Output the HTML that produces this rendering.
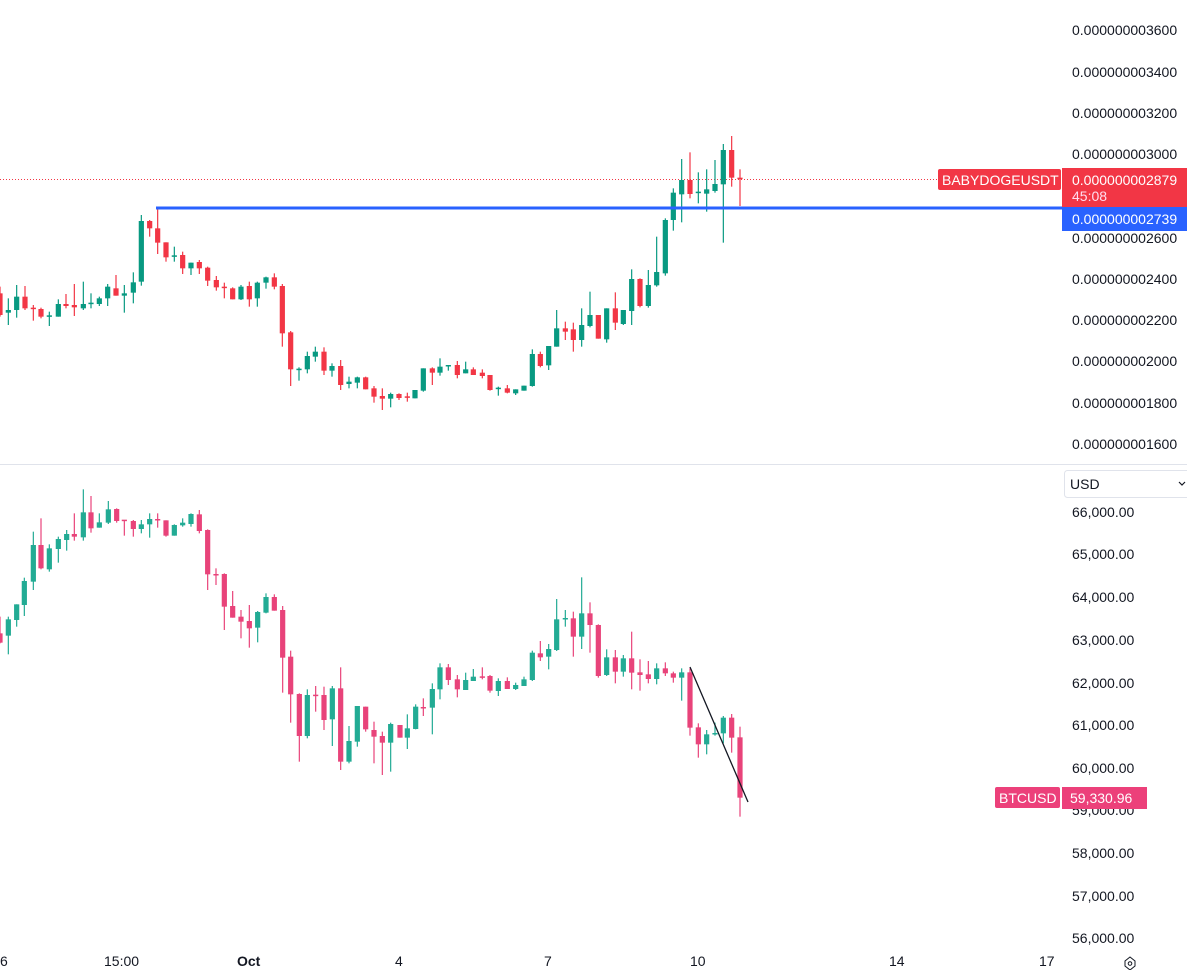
<!DOCTYPE html>
<html><head><meta charset="utf-8"><style>
html,body{margin:0;padding:0;background:#fff;width:1187px;height:970px;overflow:hidden;font-family:"Liberation Sans",sans-serif;}
svg{position:absolute;left:0;top:0}
</style></head><body>
<svg id="s" width="1187" height="970" xmlns="http://www.w3.org/2000/svg">
<line x1="0" y1="464.5" x2="1187" y2="464.5" stroke="#e0e3eb" stroke-width="1"/>
<line x1="0" y1="179.5" x2="1062" y2="179.5" stroke="#f23645" stroke-width="1" stroke-dasharray="1,2"/>
<g id="c"></g>
<line x1="156" y1="208" x2="1062" y2="208" stroke="#2962ff" stroke-width="3"/>
<line x1="690" y1="667" x2="748" y2="802" stroke="#131722" stroke-width="1.3"/>
<g font-size="14" fill="#131722" font-family="Liberation Sans, sans-serif">
<text x="1072" y="35">0.000000003600</text>
<text x="1072" y="77">0.000000003400</text>
<text x="1072" y="118">0.000000003200</text>
<text x="1072" y="159">0.000000003000</text>
<text x="1072" y="243">0.000000002600</text>
<text x="1072" y="284">0.000000002400</text>
<text x="1072" y="325">0.000000002200</text>
<text x="1072" y="366">0.000000002000</text>
<text x="1072" y="408">0.000000001800</text>
<text x="1072" y="449">0.000000001600</text>
<text x="1072" y="517">66,000.00</text>
<text x="1072" y="559">65,000.00</text>
<text x="1072" y="602">64,000.00</text>
<text x="1072" y="645">63,000.00</text>
<text x="1072" y="688">62,000.00</text>
<text x="1072" y="730">61,000.00</text>
<text x="1072" y="773">60,000.00</text>
<text x="1072" y="815">59,000.00</text>
<text x="1072" y="858">58,000.00</text>
<text x="1072" y="901">57,000.00</text>
<text x="1072" y="943">56,000.00</text>
<text x="0" y="966">6</text>
<text x="104" y="966">15:00</text>
<text x="237" y="966" font-weight="bold">Oct</text>
<text x="395" y="966">4</text>
<text x="544" y="966">7</text>
<text x="690" y="966">10</text>
<text x="889" y="966">14</text>
<text x="1039" y="966">17</text>
</g>
<rect x="1064.5" y="470.5" width="130" height="27" rx="3" fill="#fff" stroke="#e0e3eb"/>
<text x="1070" y="489" font-size="14" fill="#131722">USD</text>
<path d="M1179 482 l3 3 l3 -3" fill="none" stroke="#131722" stroke-width="1.2"/>
<polygon points="1130,957 1125,961 1125,966 1130,970 1135,966 1135,961" fill="none" stroke="#131722" stroke-width="1"/>
<circle cx="1130" cy="963.5" r="1.8" fill="none" stroke="#131722"/>
<rect x="938" y="169" width="123" height="21" rx="2" fill="#f23645"/>
<text x="942" y="185" font-size="14" fill="#fff">BABYDOGEUSDT</text>
<rect x="1062" y="168" width="125" height="39" fill="#f23645"/>
<text x="1072" y="185" font-size="14" fill="#fff">0.000000002879</text>
<text x="1072" y="201" font-size="14" fill="#fde">45:08</text>
<rect x="1062" y="207" width="125" height="24" fill="#2962ff"/>
<text x="1072" y="224" font-size="14" fill="#fff">0.000000002739</text>
<rect x="995" y="787" width="65" height="21" rx="2" fill="#ec407a"/>
<text x="999" y="803" font-size="14" fill="#fff">BTCUSD</text>
<rect x="1062" y="787" width="85" height="22" fill="#ec407a"/>
<text x="1070" y="803" font-size="14" fill="#fff">59,330.96</text>
</svg>
<script>
var G=document.getElementById('c'),h='';
function add(ox,oy,arr,gc,rc){arr.forEach(function(a){var x=ox+a[0]/3,col=a[1]?gc:rc;
var bt=oy+a[2]/3,bb=oy+a[3]/3,wt=oy+a[4]/3,wb=oy+a[5]/3;if(bb-bt<1.5)bb=bt+1.5;
h+='<line x1="'+x+'" x2="'+x+'" y1="'+wt+'" y2="'+wb+'" stroke="'+col+'" stroke-width="1.2"/>';
h+='<rect x="'+(x-2.6)+'" y="'+bt+'" width="5.2" height="'+(bb-bt)+'" fill="'+col+'"/>';});}
var T1=[[0,0,490,555,470,560],[25,1,540,548,505,585],[50,1,500,540,465,563],[75,0,500,535,468,540],[100,0,533,536,525,572],[123,0,537,560,533,565],[148,1,556,559,545,588],[175,1,522,560,508,560],[198,0,522,528,492,535],[223,0,525,532,462,558],[250,1,522,535,455,540],[273,1,518,521,490,535],[298,1,505,522,500,528],[323,1,470,505,462,528],[348,0,475,497,435,497],[373,1,490,497,465,548],[400,1,457,488,427,520],[424,1,273,455,255,467],[449,0,273,295,270,320],[473,0,295,338,235,372],[498,0,337,382,337,395],[523,1,376,379,350,395],[548,0,375,415,365,432],[573,1,398,415,398,435],[598,0,396,415,390,432],[623,0,413,452,410,468],[649,0,450,472,438,482],[673,0,470,473,458,505],[698,0,475,508,472,508],[723,1,470,508,465,510],[748,0,468,508,455,530],[772,1,458,505,455,530],[798,1,442,458,440,476],[823,0,442,470,430,478],[847,0,468,610,462,650],[872,0,607,718,603,768],[897,1,716,719,712,752],[922,1,678,718,665,730],[946,1,665,680,650,695],[972,0,665,722,652,735],[996,1,708,722,700,740],[1022,0,708,765,690,780],[1047,1,755,762,740,775],[1072,1,742,758,740,775],[1097,0,742,778,740,778],[1122,0,775,800,768,818],[1147,0,798,806,775,840],[1172,1,792,806,788,832],[1197,0,792,804,790,810]];
var T2=[[22,0,799,802,788,815],[45,1,780,805,780,805],[70,1,715,782,715,785],[97,0,715,728,712,765],[120,1,710,728,685,737],[145,1,705,708,705,722],[172,0,705,735,693,745],[197,1,718,730,695,730],[220,0,718,735,712,735],[247,0,728,738,718,745],[270,0,735,780,735,782],[295,1,773,776,770,797],[322,0,775,788,765,790],[347,1,778,790,778,795],[372,1,767,782,767,782],[397,1,672,768,658,770],[421,0,672,708,665,712],[446,1,648,706,648,720],[470,1,595,650,540,650],[496,0,595,605,575,630],[520,0,598,630,578,665],[545,1,585,630,535,650],[570,1,555,588,485,592],[595,0,555,626,555,626],[620,1,535,628,535,638],[646,0,535,578,487,600],[670,1,540,582,540,585],[695,1,447,543,418,585],[720,0,447,528,445,532],[745,1,465,528,420,533],[770,1,426,466,320,470],[796,1,270,430,265,437],[820,1,188,270,175,302],[845,1,150,193,87,277],[870,0,150,192,67,205],[895,1,185,189,127,220],[920,1,178,191,118,245],[945,1,162,183,90,188],[970,1,60,163,42,338],[995,0,60,143,18,170],[1020,0,143,146,118,228]];
var B1=[[0,0,460,488,410,490],[25,1,418,467,410,523],[50,1,373,420,373,440],[73,1,303,375,293,408],[100,1,195,305,155,330],[123,0,195,265,115,268],[148,1,205,268,193,275],[175,1,177,207,170,248],[200,1,162,180,150,212],[223,0,162,170,100,182],[250,1,97,172,28,182],[273,0,97,145,48,158],[298,1,127,143,100,143],[325,1,88,128,63,132],[350,0,87,123,85,128],[373,0,119,122,120,167],[400,0,123,147,120,170],[424,1,133,147,120,160],[449,1,117,133,100,173],[473,0,117,120,100,143],[498,0,121,167,121,170],[523,1,135,167,133,167],[548,1,128,136,115,140],[573,1,102,132,100,140],[598,0,103,153,90,160],[623,0,150,283,148,330],[648,0,282,285,265,315],[673,0,282,380,280,450],[698,0,378,413,333,413],[723,0,410,425,390,475],[748,0,423,445,375,503],[773,1,396,443,393,487],[798,1,351,398,340,400],[823,0,351,392,343,392],[848,0,390,533,378,638],[872,0,530,643,512,728],[898,0,642,768,640,845],[922,1,645,768,628,775],[947,0,644,647,618,695],[972,0,645,720,620,750],[997,1,625,718,618,798],[1022,0,625,845,562,870],[1047,1,783,845,738,850],[1072,1,678,785,678,800],[1097,0,680,748,680,755],[1122,0,750,770,725,850],[1147,0,768,788,755,885],[1172,1,732,788,728,875]];
var B2=[[0,0,465,503,465,503],[22,1,475,503,433,537],[47,1,410,477,403,478],[70,0,411,414,385,438],[97,1,357,413,340,493],[120,1,292,358,280,388],[145,0,292,330,282,345],[172,0,328,358,315,382],[197,1,330,360,308,360],[220,1,320,333,297,333],[247,0,319,322,292,328],[270,0,318,362,315,368],[295,1,333,363,325,378],[322,0,333,357,322,357],[347,1,345,357,338,360],[372,1,328,348,320,348],[397,1,248,330,242,333],[421,0,250,262,213,273],[446,1,237,260,222,298],[470,1,148,240,87,243],[496,1,144,147,120,170],[520,0,145,200,125,260],[545,1,130,200,22,237],[570,0,130,165,97,248],[595,0,165,318,163,323],[620,1,262,315,238,318],[646,0,262,305,240,340],[670,1,265,305,255,320],[695,0,265,308,185,358],[720,0,307,315,268,362],[745,0,313,327,273,340],[770,1,295,327,280,343],[796,0,295,310,277,318],[820,0,310,323,305,338],[845,1,307,323,295,392],[870,0,307,473,295,497],[895,0,472,523,460,563],[920,1,493,523,480,553],[945,1,489,492,458,497],[970,1,443,490,438,520],[995,0,443,503,432,548],[1020,0,502,683,470,740]];
add(0,130,T1,'#089981','#f23645');add(400,130,T2,'#089981','#f23645');
add(0,480,B1,'#22ab94','#e8437a');add(400,570,B2,'#22ab94','#e8437a');
G.innerHTML=h;
</script>
</body></html>
